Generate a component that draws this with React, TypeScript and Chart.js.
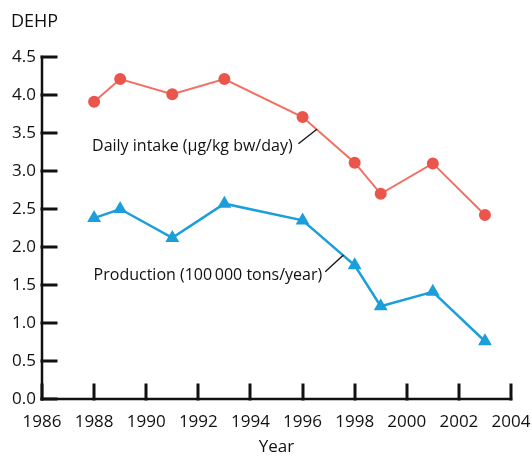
import React, { useEffect, useRef } from "react";
import { Chart, registerables } from "chart.js";

Chart.register(...registerables);

const years = [1988, 1989, 1991, 1993, 1996, 1998, 1999, 2001, 2003];
const dailyIntake = [3.91, 4.21, 4.01, 4.21, 3.71, 3.11, 2.7, 3.1, 2.42];
const production = [2.38, 2.5, 2.12, 2.57, 2.35, 1.76, 1.22, 1.41, 0.76];

const xTickValues = [1986, 1988, 1990, 1992, 1994, 1996, 1998, 2000, 2002, 2004];
const yTickValues = [0, 0.5, 1, 1.5, 2, 2.5, 3, 3.5, 4, 4.5];

const yAxisTitle = "DEHP";
const xAxisTitle = "Year";

// annotation labels: text, year of left edge, value at baseline
const labelTexts = ["Daily intake (µg/kg bw/day)", "Production (100\u2009000 tons/year)"];
const labelAnchorYears = [1987.92, 1987.98];
const labelAnchorValues = [3.263, 1.566];
// leader lines: start (year, value) -> end (year, value)
const leaderStartYears = [1995.84, 1996.87];
const leaderStartValues = [3.36, 1.675];
const leaderEndYears = [1996.55, 1997.57];
const leaderEndValues = [3.55, 1.895];

const RED = "#f26f62";
const RED_PT = "#ea554c";
const BLUE = "#1b9fda";
const INK = "#111111";
const FONT = "'Open Sans', 'Noto Sans', sans-serif";
const AXIS_W = 2.5;
const TICK_LEN = 14;

const extrasPlugin = {
  id: "extras",
  afterDraw(chart: any) {
    const ctx = chart.ctx;
    const xs = chart.scales.x;
    const ys = chart.scales.y;
    const x0 = xs.getPixelForValue(xTickValues[0]);
    const x1 = xs.getPixelForValue(xTickValues[xTickValues.length - 1]);
    const y0 = ys.getPixelForValue(yTickValues[0]);
    const y1 = ys.getPixelForValue(yTickValues[yTickValues.length - 1]);
    const h = AXIS_W / 2;
    ctx.save();
    ctx.fillStyle = INK;
    // axes
    ctx.fillRect(x0 - h, y1 - h, AXIS_W, y0 - y1 + AXIS_W);
    ctx.fillRect(x0 - h, y0 - h, x1 - x0 + AXIS_W, AXIS_W);
    // inward ticks (x: upward from the x axis; y: rightward from the y axis)
    ctx.strokeStyle = INK;
    ctx.lineWidth = 3;
    ctx.lineCap = "square";
    xTickValues.forEach((v) => {
      const px = Math.round(xs.getPixelForValue(v));
      ctx.beginPath();
      ctx.moveTo(px, Math.round(y0));
      ctx.lineTo(px, Math.round(y0) - TICK_LEN);
      ctx.stroke();
    });
    yTickValues.forEach((v) => {
      const py = Math.round(ys.getPixelForValue(v));
      ctx.beginPath();
      ctx.moveTo(Math.round(x0), py);
      ctx.lineTo(Math.round(x0) + TICK_LEN, py);
      ctx.stroke();
    });

    ctx.font = `18px ${FONT}`;
    ctx.textAlign = "left";
    ctx.textBaseline = "alphabetic";
    ctx.fillText(yAxisTitle, 11, 27);

    ctx.font = `16px ${FONT}`;
    labelTexts.forEach((txt, i) => {
      const px = xs.getPixelForValue(labelAnchorYears[i]);
      const py = ys.getPixelForValue(labelAnchorValues[i]);
      ctx.fillText(txt, px, py);
    });
    ctx.lineWidth = 1.3;
    ctx.lineCap = "butt";
    leaderStartYears.forEach((_, i) => {
      ctx.beginPath();
      ctx.moveTo(xs.getPixelForValue(leaderStartYears[i]), ys.getPixelForValue(leaderStartValues[i]));
      ctx.lineTo(xs.getPixelForValue(leaderEndYears[i]), ys.getPixelForValue(leaderEndValues[i]));
      ctx.stroke();
    });
    ctx.restore();
  },
};

export default function App() {
  const ref = useRef<HTMLCanvasElement>(null);
  useEffect(() => {
    if (!ref.current) return;
    const chart = new Chart(ref.current, {
      type: "line",
      data: {
        datasets: [
          {
            label: "Daily intake",
            data: years.map((y, i) => ({ x: y, y: dailyIntake[i] })),
            borderColor: RED,
            backgroundColor: RED_PT,
            pointBackgroundColor: RED_PT,
            pointBorderColor: RED_PT,
            borderWidth: 2,
            pointRadius: 5,
            pointStyle: "circle",
            tension: 0,
          },
          {
            label: "Production",
            data: years.map((y, i) => ({ x: y, y: production[i] })),
            borderColor: BLUE,
            backgroundColor: BLUE,
            pointBackgroundColor: BLUE,
            pointBorderColor: BLUE,
            borderWidth: 2.5,
            pointRadius: 5.5,
            pointStyle: "triangle",
            tension: 0,
          },
        ],
      },
      options: {
        animation: false,
        responsive: true,
        maintainAspectRatio: false,
        layout: { padding: { top: 57, right: 21, bottom: 0, left: 0 } },
        plugins: {
          legend: { display: false },
          tooltip: { enabled: false },
        },
        scales: {
          x: {
            type: "linear",
            min: 1986,
            max: 2004,
            afterFit: (s: any) => {
              s.height = 58;
              s.paddingLeft = 0;
              s.paddingRight = 0;
            },
            afterBuildTicks: (s: any) => {
              s.ticks = xTickValues.map((v) => ({ value: v }));
            },
            grid: { display: false, drawTicks: false },
            border: { display: false },
            ticks: {
              padding: 13,
              color: INK,
              font: { family: FONT, size: 17 },
              callback: (v: any) => String(v),
            },
            title: {
              display: true,
              text: xAxisTitle,
              color: INK,
              font: { family: FONT, size: 17 },
              padding: { top: 0, bottom: 0 },
            },
          },
          y: {
            min: 0,
            max: 4.5,
            afterFit: (s: any) => {
              s.width = 42;
              s.paddingTop = 0;
              s.paddingBottom = 0;
            },
            afterBuildTicks: (s: any) => {
              s.ticks = yTickValues.map((v) => ({ value: v }));
            },
            grid: { display: false, drawTicks: false },
            border: { display: false },
            ticks: {
              padding: 6,
              color: INK,
              font: { family: FONT, size: 17 },
              callback: (v: any) => Number(v).toFixed(1),
            },
          },
        },
      },
      plugins: [extrasPlugin],
    });
    return () => chart.destroy();
  }, []);
  return (
    <div style={{ position: "fixed", left: 0, top: 0, width: 532, height: 457, background: "#fff" }}>
      <canvas ref={ref} />
    </div>
  );
}
